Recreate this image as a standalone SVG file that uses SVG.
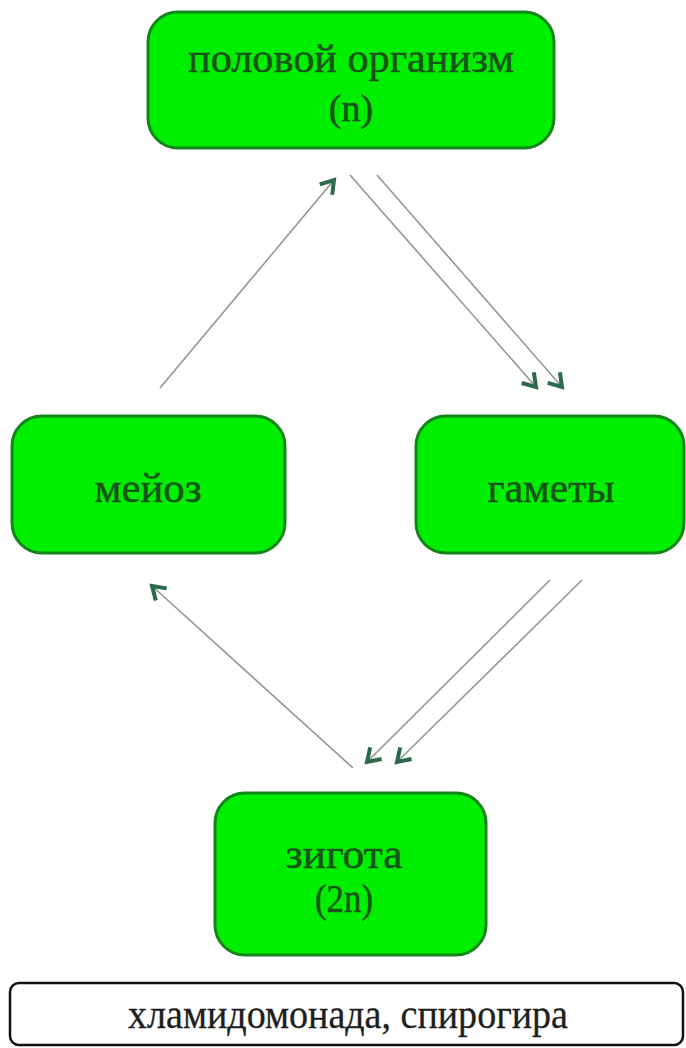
<svg xmlns="http://www.w3.org/2000/svg" width="686" height="1048" viewBox="0 0 686 1048">
<defs>
<style>
.node{fill:#00ef00;stroke:#15851a;stroke-width:3}
.lbl{font-family:"Liberation Serif","Times New Roman",serif;fill:#17531b;stroke:#17531b;stroke-width:0.5;text-anchor:middle}
.edge{stroke:#8e9a90;stroke-width:1.6;fill:none}
.note{fill:#ffffff;stroke:#111;stroke-width:2.5}
.dark{fill:#1e1e1e;stroke:#1e1e1e;stroke-width:0.3}
</style>
<marker id="ah" markerUnits="userSpaceOnUse" markerWidth="20" markerHeight="20" refX="13" refY="8" orient="auto" viewBox="0 0 16 16">
<path d="M3,1.5 L13,8 L3,14.5" fill="none" stroke="#2b6a4a" stroke-width="3.2"/>
</marker>
</defs>
<rect width="686" height="1048" fill="#ffffff"/>
<g id="connectors">
<line class="edge" x1="160" y1="388" x2="334" y2="180" marker-end="url(#ah)"/>
<line class="edge" x1="350" y1="175" x2="536" y2="387" marker-end="url(#ah)"/>
<line class="edge" x1="377" y1="175" x2="562" y2="387" marker-end="url(#ah)"/>
<line class="edge" x1="550" y1="580" x2="367" y2="762" marker-end="url(#ah)"/>
<line class="edge" x1="582" y1="580" x2="397" y2="762" marker-end="url(#ah)"/>
<line class="edge" x1="353" y1="768" x2="152" y2="586" marker-end="url(#ah)"/>
</g>
<g id="node-organism">
<rect class="node" x="148" y="12" width="406" height="136" rx="30"/>
<text class="lbl" x="351" y="72" font-size="40" textLength="326" lengthAdjust="spacingAndGlyphs">половой организм</text>
<text class="lbl" x="351" y="121" font-size="38">(n)</text>
</g>
<g id="node-meiosis">
<rect class="node" x="12" y="416" width="273" height="137" rx="30"/>
<text class="lbl" x="148" y="502" font-size="42" textLength="107" lengthAdjust="spacingAndGlyphs">мейоз</text>
</g>
<g id="node-gametes">
<rect class="node" x="416" y="416" width="268" height="137" rx="30"/>
<text class="lbl" x="551" y="502" font-size="42" textLength="127" lengthAdjust="spacingAndGlyphs">гаметы</text>
</g>
<g id="node-zygote">
<rect class="node" x="215" y="793" width="271" height="162" rx="30"/>
<text class="lbl" x="344" y="868" font-size="42" textLength="117" lengthAdjust="spacingAndGlyphs">зигота</text>
<text class="lbl" x="344" y="912" font-size="40" textLength="58" lengthAdjust="spacingAndGlyphs">(2n)</text>
</g>
<g id="node-examples">
<rect class="note" x="10" y="983" width="673" height="62" rx="9"/>
<text class="lbl dark" x="348" y="1028" font-size="40" textLength="440" lengthAdjust="spacingAndGlyphs">хламидомонада, спирогира</text>
</g>
</svg>
